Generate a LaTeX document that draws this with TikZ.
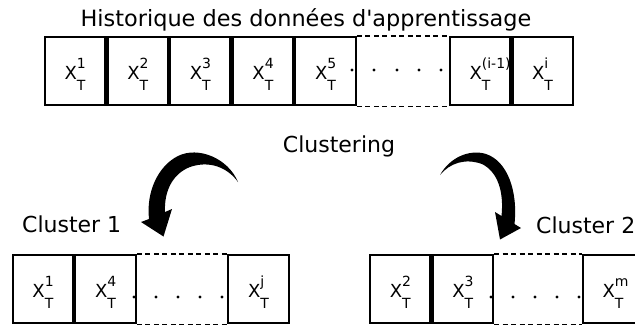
\documentclass[tikz,border=0pt]{standalone}
\usepackage{fontspec}
\newfontfamily\dv{DejaVu Sans}
\newsavebox\supbx
\newsavebox\subbx
\newcommand{\XT}[1]{X\sbox\supbx{\fontsize{14}{14}\selectfont #1}\sbox\subbx{\fontsize{14}{14}\selectfont T}\rlap{\raisebox{11pt}{\usebox\supbx}}\raisebox{-11pt}{\usebox\subbx}\ifdim\wd\supbx>\wd\subbx\hspace{\dimexpr\wd\supbx-\wd\subbx\relax}\fi}
\tikzset{
  cell/.style={draw, line width=2.2pt, minimum width=60.4pt, minimum height=68pt, inner sep=0pt,
    text height=24pt, text depth=8pt, font=\dv\fontsize{18}{18}\selectfont},
  lbl/.style={font=\dv\fontsize{22}{22}\selectfont, inner sep=0pt},
  gap/.style={dash pattern=on 5pt off 3.5pt, line width=1.2pt},
  dotm/.style={fill=black}
}
\begin{document}
\begin{tikzpicture}[x=1pt,y=-1pt]
\useasboundingbox (0,0) rectangle (635,327);
\clip (0,0) rectangle (635,327);
% title
\node[lbl, font=\dv\fontsize{22.4}{22.4}\selectfont, anchor=base] (title) at (306,26) {Historique des données d'apprentissage};
% top row
\node[cell] (t1) at (75.1,71) {\XT{1}};
\node[cell, anchor=west] (t2) at (t1.east) {\XT{2}};
\node[cell, anchor=west] (t3) at (t2.east) {\XT{3}};
\node[cell, anchor=west] (t4) at (t3.east) {\XT{4}};
\node[cell, anchor=west] (t5) at (t4.east) {\XT{5}};
\node[cell] (t6) at (480,71) {\XT{(i-1)}};
\node[cell, anchor=west] (t7) at (t6.east) {\XT{i}};
\draw[gap] (t5.north east) -- (t6.north west);
\draw[gap] (t5.south east) -- (t6.south west);
\foreach \x in {352,374,397,419,441} \fill[dotm] (\x,70) circle (1.6pt);
% clustering label
\node[lbl, anchor=base] (clus) at (339,152) {Clustering};
% left arrow
\fill[black] (238,182) .. controls (228,158) and (198,146) .. (178,156)
  .. controls (158,166) and (146,192) .. (149,219)
  -- (141,222) -- (163.5,236.5) -- (172,209) -- (165,212)
  .. controls (164,192) and (172,174) .. (190,167)
  .. controls (210,160) and (228,168) .. (238,182) -- cycle;
% right arrow
\fill[black] (440,175) .. controls (450,157) and (470,149) .. (486,154)
  .. controls (507,161) and (518,190) .. (514.5,224)
  -- (521,228) -- (500,239.5) -- (495,212) -- (501.5,216)
  .. controls (504,192) and (498,172) .. (482,164)
  .. controls (465,158) and (450,163) .. (440,175) -- cycle;
% cluster labels
\node[lbl, anchor=base] (cl1) at (71.7,232) {Cluster 1};
\node[lbl, anchor=base west] (cl2) at (536,233) {Cluster 2};
% bottom left row
\node[cell] (b1) at (42.9,289) {\XT{1}};
\node[cell, anchor=west] (b2) at (b1.east) {\XT{4}};
\node[cell] (bj) at (258.5,289) {\XT{j}};
\draw[gap] (b2.north east) -- (bj.north west);
\draw[gap] (b2.south east) -- (bj.south west);
\foreach \x in {134,156,178,200,222} \fill[dotm] (\x,297) circle (1.6pt);
% bottom right row
\node[cell] (c1) at (400.2,289) {\XT{2}};
\node[cell, anchor=west] (c2) at (c1.east) {\XT{3}};
\node[cell] (cm) at (613,289) {\XT{m}};
\draw[gap] (c2.north east) -- (cm.north west);
\draw[gap] (c2.south east) -- (cm.south west);
\foreach \x in {491,513,535,557,579} \fill[dotm] (\x,297) circle (1.6pt);
\end{tikzpicture}
\end{document}
